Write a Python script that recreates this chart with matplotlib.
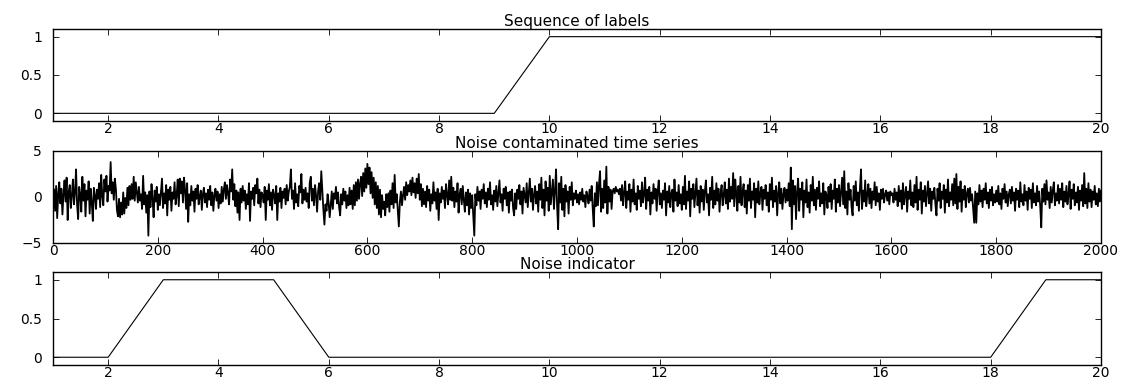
import numpy as np
import matplotlib
matplotlib.use("Agg")
import matplotlib.pyplot as plt

# ---------------- data ----------------
label_steps = list(range(1, 21))
label_values = [0, 0, 0, 0, 0, 0, 0, 0, 0, 1, 1, 1, 1, 1, 1, 1, 1, 1, 1, 1]
indicator_values = [0, 0, 1, 1, 1, 0, 0, 0, 0, 0, 0, 0, 0, 0, 0, 0, 0, 0, 1, 1]

noise_series = [
    0.8,-1.5,1.2,-2.3,0.4,1.6,-0.7,0.9,-1.9,0.3,1.8,-0.5,2.1,-2.5,0.6,1.3,-1.2,0.2,1.9,-0.8,
    0.5,3.0,-0.9,-2.4,1.1,0.3,-1.6,2.2,-0.4,1.4,-2.1,0.7,-0.3,1.7,-1.8,0.9,-0.6,-2.6,1.0,0.2,
    -1.3,0.8,-0.2,1.5,-1.1,2.4,0.1,-0.9,1.9,0.6,2.3,-0.5,1.2,0.7,3.8,0.4,1.6,-0.3,2.0,0.9,
    -1.4,-2.1,-0.2,-2.2,-0.6,-1.9,0.5,-1.8,-0.1,-1.2,1.0,-0.9,1.2,-0.3,1.4,-0.2,2.2,-0.4,1.6,0.5,
    -0.6,1.1,-0.4,0.3,-1.3,2.3,-0.8,0.5,-1.7,0.2,-4.2,0.6,-1.1,1.4,-0.2,-2.2,0.7,-0.5,1.1,-1.4,
    0.3,-0.9,0.6,2.0,-1.2,0.4,-0.7,1.3,-2.0,0.8,-0.3,1.1,-1.5,0.5,-0.2,1.6,-0.8,0.2,1.9,-1.0,
    2.0,0.4,1.7,-0.6,2.1,0.8,-1.3,1.5,-2.7,0.3,-0.9,1.2,-0.4,0.6,-1.6,0.9,-0.2,1.3,-0.8,0.1,
    0.7,-1.4,0.3,1.0,-0.6,0.4,-1.1,0.8,-0.3,1.2,-0.9,0.5,-1.5,0.2,0.9,-0.4,0.6,-1.2,0.3,-0.7,
    1.1,-0.5,0.8,1.6,-0.2,1.3,0.4,-0.8,1.9,0.6,3.0,-0.3,1.4,-1.0,0.7,-1.7,0.5,-2.5,0.9,-0.6,
    1.2,-0.4,0.7,-1.3,0.3,-0.8,1.5,-2.6,0.6,-0.2,1.0,-0.9,1.3,0.4,2.0,-0.7,0.8,-1.1,0.5,0.2,
    -0.6,1.1,-2.5,0.7,-0.3,1.4,-0.9,0.5,-1.4,0.8,0.2,-0.7,1.2,-2.5,0.4,-0.5,1.0,-1.2,0.6,-0.1,
    0.9,-0.8,1.3,-0.4,0.6,1.1,3.0,-0.2,0.7,-1.3,1.5,-0.6,0.3,-1.0,1.2,0.5,2.5,-0.7,0.8,-0.3,
    1.0,-0.5,0.4,-1.2,1.6,2.2,-0.4,0.9,-0.9,1.3,0.2,-1.6,0.7,1.5,-0.3,2.8,0.6,-1.4,-3.0,-0.8,
    -1.5,0.3,-0.6,-2.2,-0.9,0.6,-1.3,0.4,-0.2,1.1,-0.7,0.5,-1.1,-2.0,0.3,-0.8,0.9,-0.4,0.6,-1.2,
    0.2,-0.9,1.0,-0.8,0.7,-1.3,1.3,-0.9,1.6,-0.4,1.9,-0.2,1.5,2.2,0.1,2.6,0.6,3.1,1.0,3.6,
    1.4,3.2,0.4,2.7,-0.1,2.1,-0.8,1.6,-1.2,1.2,-1.9,0.8,-2.2,0.2,-1.3,-0.5,-2.0,0.3,-1.1,0.4,
    -1.6,0.7,-0.8,1.5,-1.2,2.4,-0.6,0.3,-1.4,-3.2,-0.5,0.6,-0.9,0.2,1.1,-0.3,1.6,0.2,1.3,0.6,
    1.8,0.2,2.1,0.5,1.5,-0.1,2.0,0.4,2.5,-0.3,1.4,-1.0,0.9,-0.8,0.6,-1.1,1.2,-0.4,0.8,-1.5,
    0.3,-0.7,1.6,-0.4,0.5,-1.3,0.9,-2.5,0.4,-0.6,1.1,-0.2,0.7,-1.2,1.4,0.2,-0.8,1.8,-0.3,2.2,
    -0.4,1.0,-1.1,0.6,-0.5,1.5,-1.7,0.3,0.9,-0.8,1.2,-0.3,-1.6,0.5,-0.9,0.8,-1.9,0.4,-1.2,0.2,
    -2.0,-4.2,0.3,-0.9,1.1,-0.4,0.6,-1.3,0.8,-0.2,1.4,-0.7,0.5,-1.1,0.9,-0.3,1.6,-0.8,0.2,-1.4,
    0.7,-0.5,1.2,-1.0,0.4,1.8,-0.6,0.3,-1.5,0.9,-0.2,1.1,-0.9,0.5,-1.7,0.6,-0.4,0.8,-1.2,-2.0,
    0.4,-1.3,0.8,-0.2,1.3,-0.8,0.6,-1.8,1.0,0.2,-0.6,1.5,-1.1,0.4,2.0,-0.5,0.9,-1.4,0.3,1.2,
    -0.7,0.6,-1.6,1.4,-0.3,2.1,-1.2,0.8,-2.0,1.7,-0.4,1.0,-1.5,2.3,-0.8,0.5,1.9,-1.3,0.7,3.0,
    -1.0,-3.5,1.5,-0.6,2.2,-1.4,0.9,-2.1,1.3,-0.5,0.6,-1.8,1.1,-0.3,1.6,-0.9,0.4,-0.2,0.7,-0.6,
    0.3,-0.8,0.5,-0.3,0.9,-0.5,0.2,-1.1,0.6,0.1,-0.7,0.8,-0.4,1.2,-1.3,-3.2,0.4,-1.0,1.6,-0.9,
    1.4,2.8,-1.6,0.9,-1.2,1.8,-0.6,3.3,-1.8,1.1,-0.5,0.8,-1.3,0.6,0.9,0.4,1.1,0.6,0.8,0.3,
    0.9,-0.4,1.3,-0.9,0.5,1.7,-1.2,0.6,-0.3,1.4,-1.6,0.8,-0.5,1.9,-0.8,0.4,-1.4,1.2,-0.2,0.7,
    -1.0,1.6,-0.6,0.3,2.1,-1.3,0.8,-0.4,1.1,-1.9,0.5,-0.7,1.4,-0.2,0.9,-1.5,0.6,1.8,-0.8,0.4,
    -1.2,0.7,-0.3,1.5,-2.0,0.6,-0.6,1.2,-1.1,0.4,0.8,-1.6,1.9,-0.4,0.5,-1.0,1.3,-0.7,0.3,-1.4,
    1.1,-0.8,2.3,-1.3,0.6,-0.4,1.7,-2.1,0.9,-0.2,1.4,-1.1,0.5,2.0,-0.9,0.7,-1.7,1.2,-0.5,0.8,
    -1.4,0.6,1.8,-0.6,0.3,-2.0,1.0,-0.3,2.2,-1.2,0.7,-0.8,1.5,-0.4,0.9,-1.6,0.4,1.3,-0.9,0.2,
    1.6,-0.7,0.8,-1.3,2.0,-0.5,1.1,-0.2,2.6,-1.0,1.9,0.3,-1.5,1.2,-0.6,2.2,-0.9,0.5,1.4,-1.1,
    0.7,-1.8,1.3,-0.4,2.0,-1.2,0.6,-0.3,1.5,-2.2,0.9,-0.6,1.7,-0.8,0.4,1.1,-1.4,0.8,-0.2,1.3,
    -0.9,0.5,-1.6,1.4,-0.3,2.1,-1.1,0.7,-0.5,1.2,-2.0,0.4,1.6,-0.7,0.9,-1.3,0.3,1.0,-0.6,0.8,
    -0.4,1.5,-1.0,3.2,-3.5,1.8,-0.8,1.2,-2.4,0.6,2.0,-1.5,0.9,-0.3,1.6,-2.2,0.7,-0.6,1.9,-1.1,
    0.5,-1.7,1.3,-0.4,2.2,-0.9,0.8,-1.4,1.0,-0.2,1.7,-1.0,0.4,-0.7,1.5,-1.9,0.6,0.2,-1.2,1.1,
    -0.5,1.4,-1.3,0.7,-0.2,1.9,-1.6,0.9,-0.6,1.3,-1.0,0.5,2.1,-0.8,2.8,-1.2,0.6,-1.9,1.5,-0.3,
    0.8,-1.1,-2.0,1.2,-0.4,1.7,-0.9,0.5,-1.5,1.0,3.0,-1.3,0.7,-0.5,1.8,-1.0,0.3,1.4,-0.7,0.9,
    -1.2,0.6,-0.3,1.6,-0.9,1.1,-0.5,0.4,-1.4,0.8,-0.2,0.9,-0.6,0.3,0.7,-0.4,0.5,-0.8,0.6,0.2,
    0.4,-0.6,0.9,-0.3,0.5,-1.0,1.2,-0.5,0.7,-1.3,1.5,-0.8,0.3,1.1,-1.6,0.6,-0.2,1.8,-0.9,0.5,
    -1.1,1.3,-0.6,2.2,-1.4,0.8,-0.3,1.6,-1.8,0.7,-0.5,1.2,-1.0,0.4,1.7,-0.7,0.9,-1.5,0.6,-0.2,
    1.0,-0.8,-2.0,0.9,-0.4,1.5,-1.2,0.6,-0.2,1.3,-1.7,0.8,-0.6,1.9,-1.0,0.5,-0.3,1.4,-0.9,2.0,
    -0.7,2.5,-1.3,1.1,-0.5,1.7,-1.6,0.8,-0.3,1.2,-1.1,0.4,0.9,-0.6,1.0,-0.4,0.3,-1.2,-2.8,0.6,
    -2.8,0.4,-0.8,1.3,-0.5,0.7,-1.1,0.9,-0.3,1.5,-0.7,0.5,-1.2,0.8,-0.4,1.1,-0.9,0.3,-0.6,0.7,
    -0.5,1.2,-0.8,0.4,-1.3,0.9,-0.2,1.4,-0.6,0.6,-1.0,0.3,0.8,-0.7,1.1,-0.4,0.5,-1.5,0.9,-0.3,
    0.7,-1.1,1.6,-0.5,0.3,-0.9,1.3,-0.4,0.6,-1.4,1.0,-0.2,0.8,-1.2,1.5,-0.6,0.4,-0.9,1.2,-0.5,
    0.6,-1.0,-3.3,0.9,-0.5,1.4,-0.8,1.8,-0.3,0.5,-1.2,1.1,-0.6,0.7,1.6,-0.9,0.4,-0.4,1.3,-0.7,
    0.9,-0.3,1.5,-1.1,0.6,-0.5,1.2,-0.8,0.3,1.7,-1.3,0.8,-0.2,1.4,-0.9,0.5,-0.6,1.1,-1.4,0.7,
    -0.4,1.3,-1.0,2.6,-0.7,0.9,-1.2,1.5,-0.5,0.8,-1.1,0.6,-0.3,1.2,-0.8,0.4,-1.0,0.9,-0.5,0.7,
]
noise_len = 2000

titles = ["Sequence of labels", "Noise contaminated time series", "Noise indicator"]

# ---------------- style ----------------
plt.rcParams["font.family"] = ["DejaVu Sans"]
plt.rcParams["font.size"] = 10
plt.rcParams["axes.linewidth"] = 1.0
plt.rcParams["xtick.direction"] = "in"
plt.rcParams["ytick.direction"] = "in"
plt.rcParams["xtick.top"] = True
plt.rcParams["ytick.right"] = True
plt.rcParams["xtick.major.size"] = 4.5
plt.rcParams["ytick.major.size"] = 4.5
plt.rcParams["xtick.major.width"] = 0.6
plt.rcParams["ytick.major.width"] = 0.6
plt.rcParams["xtick.major.pad"] = 1
plt.rcParams["ytick.major.pad"] = 8
plt.rcParams["xtick.labelsize"] = 10
plt.rcParams["ytick.labelsize"] = 10

W, H = 1127, 380
fig = plt.figure(figsize=(W / 100, H / 100), dpi=100)

def px_axes(left, top, right, bottom):
    return fig.add_axes([left / W, 1 - bottom / H, (right - left) / W, (bottom - top) / H])

ax1 = px_axes(53, 29, 1101, 121)
ax2 = px_axes(53, 151, 1101, 243)
ax3 = px_axes(53, 272, 1101, 365)

TITLE_SIZE = 11

# top
ax1.plot(label_steps, label_values, color="black", lw=0.8)
ax1.set_xlim(1, 20)
ax1.set_ylim(-0.1, 1.1)
ax1.set_xticks(range(2, 21, 2))
ax1.set_yticks([0, 0.5, 1])
ax1.set_yticklabels(["0", "0.5", "1"])
ax1.set_title(titles[0], fontsize=TITLE_SIZE, pad=2)

# middle
n = len(noise_series)
x_noise = np.arange(1, n + 1) * (noise_len / n)
ax2.plot(x_noise, noise_series, color="black", lw=1.3)
ax2.set_xlim(0, noise_len)
ax2.set_ylim(-5, 5)
ax2.set_xticks(range(0, 2001, 200))
ax2.set_yticks([-5, 0, 5])
ax2.set_title(titles[1], fontsize=TITLE_SIZE, pad=0)

# bottom
ax3.plot(label_steps, indicator_values, color="black", lw=0.8)
ax3.set_xlim(1, 20)
ax3.set_ylim(-0.1, 1.1)
ax3.set_xticks(range(2, 21, 2))
ax3.set_yticks([0, 0.5, 1])
ax3.set_yticklabels(["0", "0.5", "1"])
ax3.set_title(titles[2], fontsize=TITLE_SIZE, pad=0)

fig.savefig("out.png", dpi=100)
